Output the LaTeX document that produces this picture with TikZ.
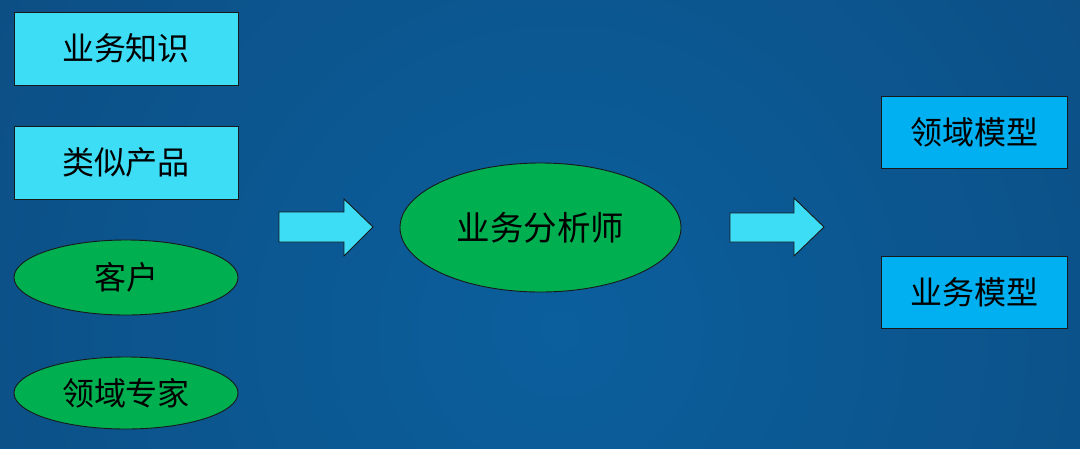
\documentclass[tikz,border=0pt]{standalone}
\usepackage{fontspec}
\setmainfont{Noto Sans CJK SC}
\usetikzlibrary{shapes.geometric}
\definecolor{bgin}{HTML}{0B5F9D}
\definecolor{bgout}{HTML}{0D3F6D}
\definecolor{lightcyan}{HTML}{3CDDF5}
\definecolor{skyblue}{HTML}{00B0F0}
\definecolor{grn}{HTML}{00B050}
\tikzset{
  box/.style={draw=black!90, line width=0.9pt, rectangle, minimum width=224pt, minimum height=73pt, inner sep=0pt, font=\fontsize{32}{36}\selectfont},
  inbox/.style={box, fill=lightcyan},
  outbox/.style={box, fill=skyblue, minimum width=186pt, minimum height=72pt},
  oval/.style={draw=black!90, line width=0.9pt, ellipse, fill=grn, inner sep=0pt, font=\fontsize{32}{36}\selectfont},
  blockarrow/.style={draw=black!90, line width=0.9pt, fill=lightcyan, line join=miter}
}
\begin{document}
\begin{tikzpicture}[x=1pt,y=-1pt]
\useasboundingbox (0,0) rectangle (1080,448);
\fill[bgout] (0,0) rectangle (1080,448);
\begin{scope}
\clip (0,0) rectangle (1080,448);
\shade[inner color=bgin, outer color=bgout] (560,330) circle (1300);
\end{scope}
\node[inbox] (k) at (126,48.5) {业务知识};
\node[inbox] (p) at (126,162.5) {类似产品};
\node[oval, minimum width=224pt, minimum height=75pt] (c) at (126,277.5) {客户};
\node[oval, minimum width=224pt, minimum height=72pt] (e) at (126,393) {领域专家};
\node[oval, minimum width=281pt, minimum height=129pt, font=\fontsize{33.5}{38}\selectfont] (a) at (540.5,227.5) {业务分析师};
\node[outbox] (dm) at (974,132) {领域模型};
\node[outbox] (bm) at (974,292) {业务模型};
\draw[blockarrow] (279,212) -- (344,212) -- (344,199) -- (373,227) -- (344,256) -- (344,242) -- (279,242) -- cycle;
\draw[blockarrow] (730,213) -- (794,213) -- (794,198) -- (824,227) -- (794,256) -- (794,242) -- (730,242) -- cycle;
\end{tikzpicture}
\end{document}
